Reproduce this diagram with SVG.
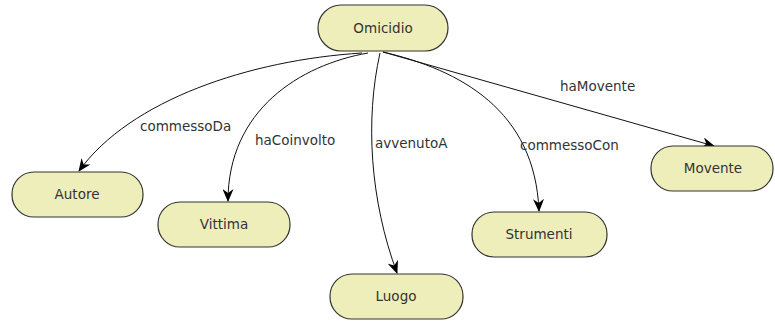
<svg xmlns="http://www.w3.org/2000/svg" width="775" height="322" viewBox="0 0 775 322">
<style>
.node rect{fill:#eeeebb;stroke:#333;stroke-width:1.2}
.node text{font-family:"DejaVu Sans",sans-serif;font-size:13.5px;fill:#333;text-anchor:middle;dominant-baseline:central}
.edge path{fill:none;stroke:#111;stroke-width:1;marker-end:url(#arr)}
.lbl{font-family:"DejaVu Sans",sans-serif;font-size:13.5px;fill:#333}
</style>
<defs>
<marker id="arr" viewBox="0 0 13 11" refX="12" refY="5.5" markerWidth="13" markerHeight="11" markerUnits="userSpaceOnUse" orient="auto">
<path d="M0,0 L13,5.5 L0,11 L4,5.5 z" fill="#000"/>
</marker>
</defs>
<rect width="775" height="322" fill="#fff"/>
<g id="connectors">
<g class="edge"><path d="M362 53 C250 60 130 100 79 171"/></g>
<g class="edge"><path d="M368 53 C300 65 228 110 228 201"/></g>
<g class="edge"><path d="M380 53 C365 120 370 200 397 273"/></g>
<g class="edge"><path d="M383 52 C460 70 535 110 539 211"/></g>
<g class="edge"><path d="M383 52 L714 146"/></g>
<text class="lbl" x="140" y="131">commessoDa</text>
<text class="lbl" x="255" y="145">haCoinvolto</text>
<text class="lbl" x="375" y="148">avvenutoA</text>
<text class="lbl" x="520" y="150">commessoCon</text>
<text class="lbl" x="560" y="91">haMovente</text>
</g>
<g id="omicidio" class="node"><rect x="318" y="5" width="130" height="46" rx="23"/><text x="383" y="28">Omicidio</text></g>
<g id="autore" class="node"><rect x="12" y="172" width="131" height="45" rx="22"/><text x="77" y="194">Autore</text></g>
<g id="vittima" class="node"><rect x="158" y="202" width="132" height="45" rx="22"/><text x="224" y="224">Vittima</text></g>
<g id="luogo" class="node"><rect x="330" y="274" width="133" height="45" rx="22"/><text x="396" y="296">Luogo</text></g>
<g id="strumenti" class="node"><rect x="472" y="212" width="135" height="45" rx="22"/><text x="539" y="234">Strumenti</text></g>
<g id="movente" class="node"><rect x="651" y="146" width="122" height="45" rx="22"/><text x="713" y="168">Movente</text></g>
</svg>
